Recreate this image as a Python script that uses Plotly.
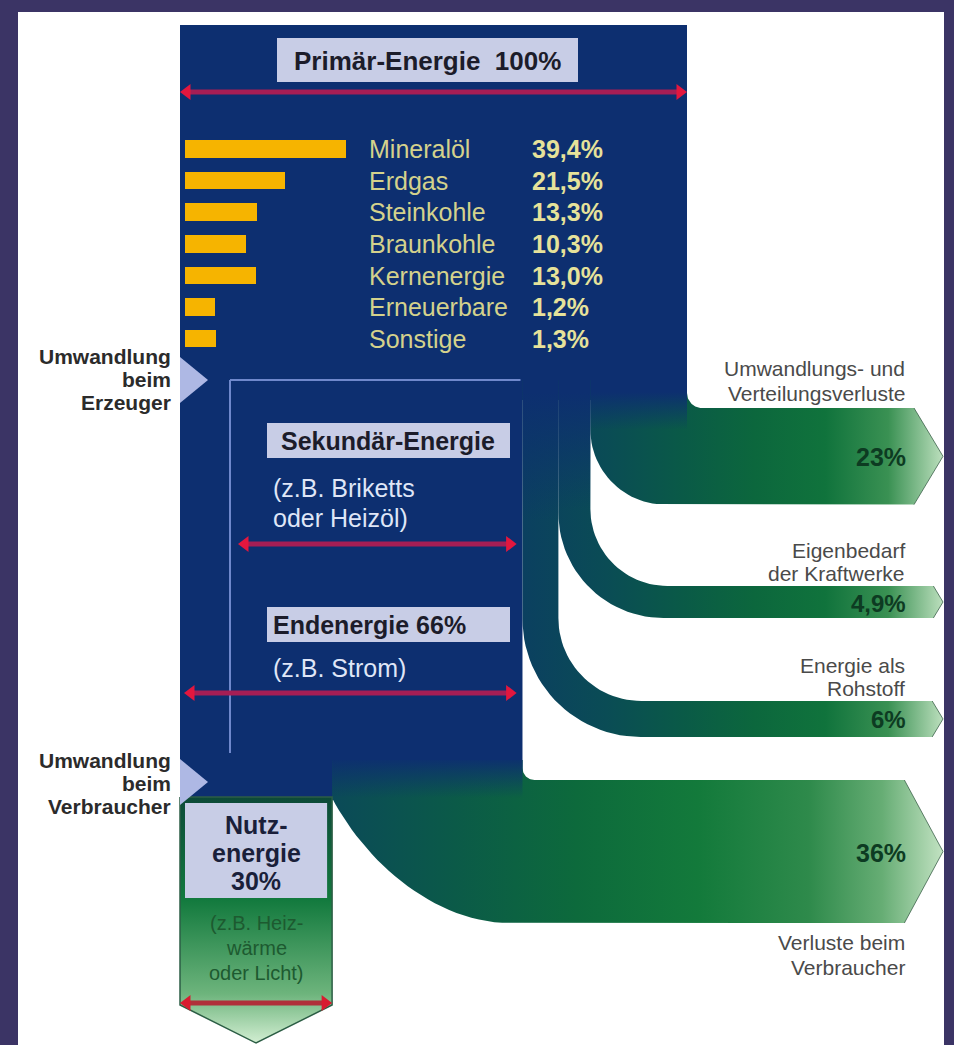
import numpy as np
import plotly.graph_objects as go

# ---------------- data ----------------
SOURCES = ["Mineralöl", "Erdgas", "Steinkohle", "Braunkohle",
           "Kernenergie", "Erneuerbare", "Sonstige"]
SHARES = [39.4, 21.5, 13.3, 10.3, 13.0, 1.2, 1.3]

PRIMARY_SHARE = 100
FINAL_SHARE = 66
USEFUL_SHARE = 30

LOSS_SHARES = [23, 4.9, 6, 36]
LOSS_CAPTIONS = [["Umwandlungs- und", "Verteilungsverluste"],
                 ["Eigenbedarf", "der Kraftwerke"],
                 ["Energie als", "Rohstoff"],
                 ["Verluste beim", "Verbraucher"]]


def de_pct(v, decimals=None):
    if decimals is None:
        decimals = 0 if float(v).is_integer() else 1
    return f"{v:.{decimals}f}".replace(".", ",") + "%"


# ---------------- styling / layout constants ----------------
W, H = 954, 1045
FONT = "Liberation Sans, Arial, Helvetica, sans-serif"
PURPLE = "#3b3465"
NAVY = "#0d2f70"
LAVENDER = "#c8cde6"
BAR_YELLOW = "#f6b400"
ARROW_LINE = "#a61e55"
ARROW_HEAD = "#e3173e"

X0 = 180            # left edge of the energy column
TOP = 25            # top of the energy column
COL_PX = 5.07       # column width per percent
FLOW_MIN = 14.5     # minimum thickness of a loss stream
FLOW_PX = 3.57      # loss stream thickness per percent
TIP_X = 943

RIGHT = X0 + PRIMARY_SHARE * COL_PX
thick = [FLOW_MIN + FLOW_PX * v for v in LOSS_SHARES]
edges = [RIGHT]
for t in thick[:3]:
    edges.append(edges[-1] - t)
COL_EDGE = edges[-1]
USEFUL_RIGHT = X0 + USEFUL_SHARE * COL_PX
FINAL_RIGHT = X0 + FINAL_SHARE * COL_PX

RUN_TOPS = [408, 586, 701, 780]
R_INNER = [15, 77, 83, 12]
R_OUTER = [75, 105, 118]
DROP_START = 380

fig = go.Figure()


def arc(cx, cy, r, a0, a1, n=28):
    t = np.radians(np.linspace(a0, a1, n))
    return list(cx + r * np.cos(t)), list(cy + r * np.sin(t))


def poly(xs, ys, color=None, grad=None, line=None):
    fig.add_trace(go.Scatter(
        x=xs, y=ys, mode="lines", fill="toself",
        fillcolor=color, fillgradient=grad,
        line=line if line else dict(width=0),
        hoverinfo="skip", showlegend=False))


def seg(xs, ys, color, width):
    fig.add_trace(go.Scatter(x=xs, y=ys, mode="lines",
                             line=dict(color=color, width=width),
                             hoverinfo="skip", showlegend=False))


RIGHT_FLOW = dict(type="horizontal", start=COL_EDGE, stop=TIP_X, colorscale=[
    [0.0, "#0b4060"], [0.2, "#0a4c55"], [0.38, "#0a5a47"], [0.55, "#0c673d"],
    [0.72, "#10733c"], [0.87, "#3a9153"], [1.0, "#bcdfbd"]])
LOWER_FLOW = dict(type="horizontal", start=USEFUL_RIGHT, stop=TIP_X, colorscale=[
    [0.0, "#0b4a58"], [0.2, "#0b5a48"], [0.4, "#0d6a3c"], [0.6, "#137a3b"],
    [0.78, "#2e8a4b"], [0.9, "#66ad74"], [1.0, "#c2e2c2"]])
FADE = [[0, "rgba(13,47,112,1)"], [1, "rgba(13,47,112,0)"]]

# ---------------- energy column ----------------
poly([X0, RIGHT, RIGHT, COL_EDGE, COL_EDGE, X0],
     [TOP, TOP, 400, 400, 800, 800], color=NAVY)

# three loss streams leaving on the right
for i in range(3):
    xl, xr = edges[i + 1], edges[i]
    t = thick[i]
    yt = RUN_TOPS[i]
    yb = yt + t
    tl = 0.3 * t
    xs = [xl, xr, xr]
    ys = [DROP_START, DROP_START, yt - R_INNER[i]]
    ax, ay = arc(xr + R_INNER[i], yt - R_INNER[i], R_INNER[i], 180, 90)
    xs += ax; ys += ay
    xs += [TIP_X - tl, TIP_X, TIP_X - tl]
    ys += [yt, yt + t / 2, yb]
    ax, ay = arc(xl + R_OUTER[i], yb - R_OUTER[i], R_OUTER[i], 90, 180)
    xs += ax; ys += ay
    xs.append(xl); ys.append(DROP_START)
    poly(xs, ys, grad=RIGHT_FLOW)
    seg([TIP_X - tl, TIP_X, TIP_X - tl], [yt, yt + t / 2, yb], "rgba(40,80,55,0.7)", 1)

# consumer losses
t = thick[3]
yt = RUN_TOPS[3]
yb = yt + t
tl = 0.27 * t
xs = [USEFUL_RIGHT, COL_EDGE, COL_EDGE]
ys = [760, 760, yt - R_INNER[3]]
ax, ay = arc(COL_EDGE + R_INNER[3], yt - R_INNER[3], R_INNER[3], 180, 90)
xs += ax; ys += ay
xs += [TIP_X - tl, TIP_X, TIP_X - tl, 510]
ys += [yt, yt + t / 2, yb, yb]
bez = np.linspace(0, 1, 30)
p0, p1, p2, p3 = (510, yb), (434, yb), (364, 860), (USEFUL_RIGHT, 798)
xs += list((1 - bez) ** 3 * p0[0] + 3 * (1 - bez) ** 2 * bez * p1[0]
           + 3 * (1 - bez) * bez ** 2 * p2[0] + bez ** 3 * p3[0])
ys += list((1 - bez) ** 3 * p0[1] + 3 * (1 - bez) ** 2 * bez * p1[1]
           + 3 * (1 - bez) * bez ** 2 * p2[1] + bez ** 3 * p3[1])
poly(xs, ys, grad=LOWER_FLOW)
seg([TIP_X - tl, TIP_X, TIP_X - tl], [yt, yt + t / 2, yb], "rgba(40,80,55,0.7)", 1)

# blue-to-green fade where the streams leave the column
for i in range(3):
    xl, xr = edges[i + 1], edges[i]
    ye = RUN_TOPS[i] + thick[i] - R_OUTER[i]
    if i > 0:
        ye = min(ye, RUN_TOPS[i] - R_INNER[i])
    stop = min(ye, 520)
    poly([xl, xr, xr, xl], [DROP_START, DROP_START, ye, ye],
         grad=dict(type="vertical", start=392, stop=stop, colorscale=FADE))
poly([USEFUL_RIGHT, COL_EDGE, COL_EDGE, USEFUL_RIGHT], [760, 760, 798, 798],
     grad=dict(type="vertical", start=758, stop=798, colorscale=FADE))

# useful energy column
NUTZ_TOP, NUTZ_BOT, NUTZ_TIP = 797, 1005, 1043
poly([X0, USEFUL_RIGHT, USEFUL_RIGHT, (X0 + USEFUL_RIGHT) / 2, X0, X0],
     [NUTZ_TOP, NUTZ_TOP, NUTZ_BOT, NUTZ_TIP, NUTZ_BOT, NUTZ_TOP],
     grad=dict(type="vertical", start=NUTZ_TOP, stop=NUTZ_TIP, colorscale=[
         [0, "#0d4a38"], [0.42, "#137a3e"], [0.8, "#6db47c"], [1, "#d2eed2"]]),
     line=dict(color="#2c5e45", width=1.5))

# conversion pointers
for yc in (380, 782):
    poly([X0, X0 + 28, X0], [yc - 23, yc, yc + 23], color="#aeb8e4")

# secondary energy frame
seg([230, COL_EDGE - 2], [380, 380], "#6f88cc", 2)
seg([230, 230], [380, 753], "#6f88cc", 2)


# double-headed arrows
def double_arrow(xa, xb, y, line_color=ARROW_LINE, head=ARROW_HEAD, width=5):
    seg([xa + 4, xb - 4], [y, y], line_color, width)
    fig.add_trace(go.Scatter(
        x=[xa + 5, xb - 5], y=[y, y], mode="markers",
        marker=dict(symbol=["triangle-left", "triangle-right"], size=14, color=head),
        hoverinfo="skip", showlegend=False))


double_arrow(X0 + 2, RIGHT - 2, 92)
double_arrow(240, FINAL_RIGHT, 544)
double_arrow(X0 + 6, FINAL_RIGHT, 693)
double_arrow(X0 + 2, USEFUL_RIGHT - 2, 1003, line_color="#b0303a", head="#d81c30")

# ---------------- primary energy mix ----------------
BAR_STUB = 7.6
BAR_PX = 3.43
BAR_X0, BAR_W = 185, 175
ROW_TOP, ROW_BOT = 133.2, 354.8

fig.add_trace(go.Bar(
    x=[s + BAR_STUB for s in SHARES], y=SOURCES, base=-BAR_STUB,
    orientation="h", xaxis="x2", yaxis="y2", width=0.55,
    marker=dict(color=BAR_YELLOW, line=dict(width=0)),
    hoverinfo="skip", showlegend=False))

annotations = []


def note(x, y, text, size, color, anchor="left", bold=False, yref="y"):
    annotations.append(dict(
        x=x, y=y, xref="x", yref=yref,
        text=f"<b>{text}</b>" if bold else text,
        showarrow=False, xanchor=anchor, yanchor="middle",
        font=dict(family=FONT, size=size, color=color)))


for name, share in zip(SOURCES, SHARES):
    note(367, name, name, 25, "#d4d28c", yref="y2")
    note(530, name, de_pct(share, 1), 25, "#e6e29a", bold=True, yref="y2")

# ---------------- labels ----------------
shapes = [dict(type="rect", x0=18, y0=12, x1=944, y1=H, xref="x", yref="y",
               fillcolor="white", line=dict(width=0), layer="below")]
for (bx0, by0, bx1, by1) in [(277, 38, 578, 82), (267, 423, 510, 458),
                             (267, 607, 510, 642), (185, 803, USEFUL_RIGHT - 5, 898)]:
    shapes.append(dict(type="rect", x0=bx0, y0=by0, x1=bx1, y1=by1, xref="x", yref="y",
                       fillcolor=LAVENDER, line=dict(width=0), layer="above"))

note(427, 61, f"Primär-Energie  {PRIMARY_SHARE}%", 26, "#1c1c2a", anchor="center", bold=True)
note(388, 441, "Sekundär-Energie", 25, "#1c1c2a", anchor="center", bold=True)
note(271, 488, "(z.B. Briketts", 25, "#dfe6f7")
note(271, 518, "oder Heizöl)", 25, "#dfe6f7")
note(271, 625, f"Endenergie {FINAL_SHARE}%", 25, "#1c1c2a", bold=True)
note(271, 668, "(z.B. Strom)", 25, "#dfe6f7")

nx = (185 + USEFUL_RIGHT - 5) / 2
for yy, s in zip((825, 853, 881), ["Nutz-", "energie", f"{USEFUL_SHARE}%"]):
    note(nx, yy, s, 25, "#1a1f3a", anchor="center", bold=True)
for yy, s in zip((923, 948, 973), ["(z.B. Heiz-", "wärme", "oder Licht)"]):
    note(nx, yy, s, 20, "#1d5a30", anchor="center")

for yy, s in zip((356, 379, 402), ["Umwandlung", "beim", "Erzeuger"]):
    note(173, yy, s, 21, "#2b2b2b", anchor="right", bold=True)
for yy, s in zip((760, 783, 806), ["Umwandlung", "beim", "Verbraucher"]):
    note(173, yy, s, 21, "#2b2b2b", anchor="right", bold=True)

caption_y = [(368, 393), (550, 573), (665, 688), (942, 967)]
for (y1, y2), cap in zip(caption_y, LOSS_CAPTIONS):
    note(907, y1, cap[0], 21, "#4a4a4a", anchor="right")
    note(907, y2, cap[1], 21, "#4a4a4a", anchor="right")

for v, t, yt in zip(LOSS_SHARES, thick, RUN_TOPS):
    note(908, yt + t / 2 + 1, de_pct(v), 25 if v >= 20 else 24, "#0d3b22", anchor="right", bold=True)

fig.update_layout(
    width=W, height=H, margin=dict(l=0, r=0, t=0, b=0, pad=0),
    paper_bgcolor=PURPLE, plot_bgcolor="rgba(0,0,0,0)", showlegend=False,
    xaxis=dict(range=[0, W], domain=[0, 1], visible=False, fixedrange=True),
    yaxis=dict(range=[H, 0], domain=[0, 1], visible=False, fixedrange=True),
    xaxis2=dict(domain=[BAR_X0 / W, (BAR_X0 + BAR_W) / W],
                range=[-BAR_STUB, -BAR_STUB + BAR_W / BAR_PX],
                visible=False, anchor="y2", fixedrange=True),
    yaxis2=dict(domain=[1 - ROW_BOT / H, 1 - ROW_TOP / H], type="category",
                categoryorder="array", categoryarray=SOURCES, range=[6.5, -0.5],
                visible=False, anchor="x2", fixedrange=True),
    shapes=shapes, annotations=annotations, bargap=0)

fig.write_html("out.html", config={"displayModeBar": False})
